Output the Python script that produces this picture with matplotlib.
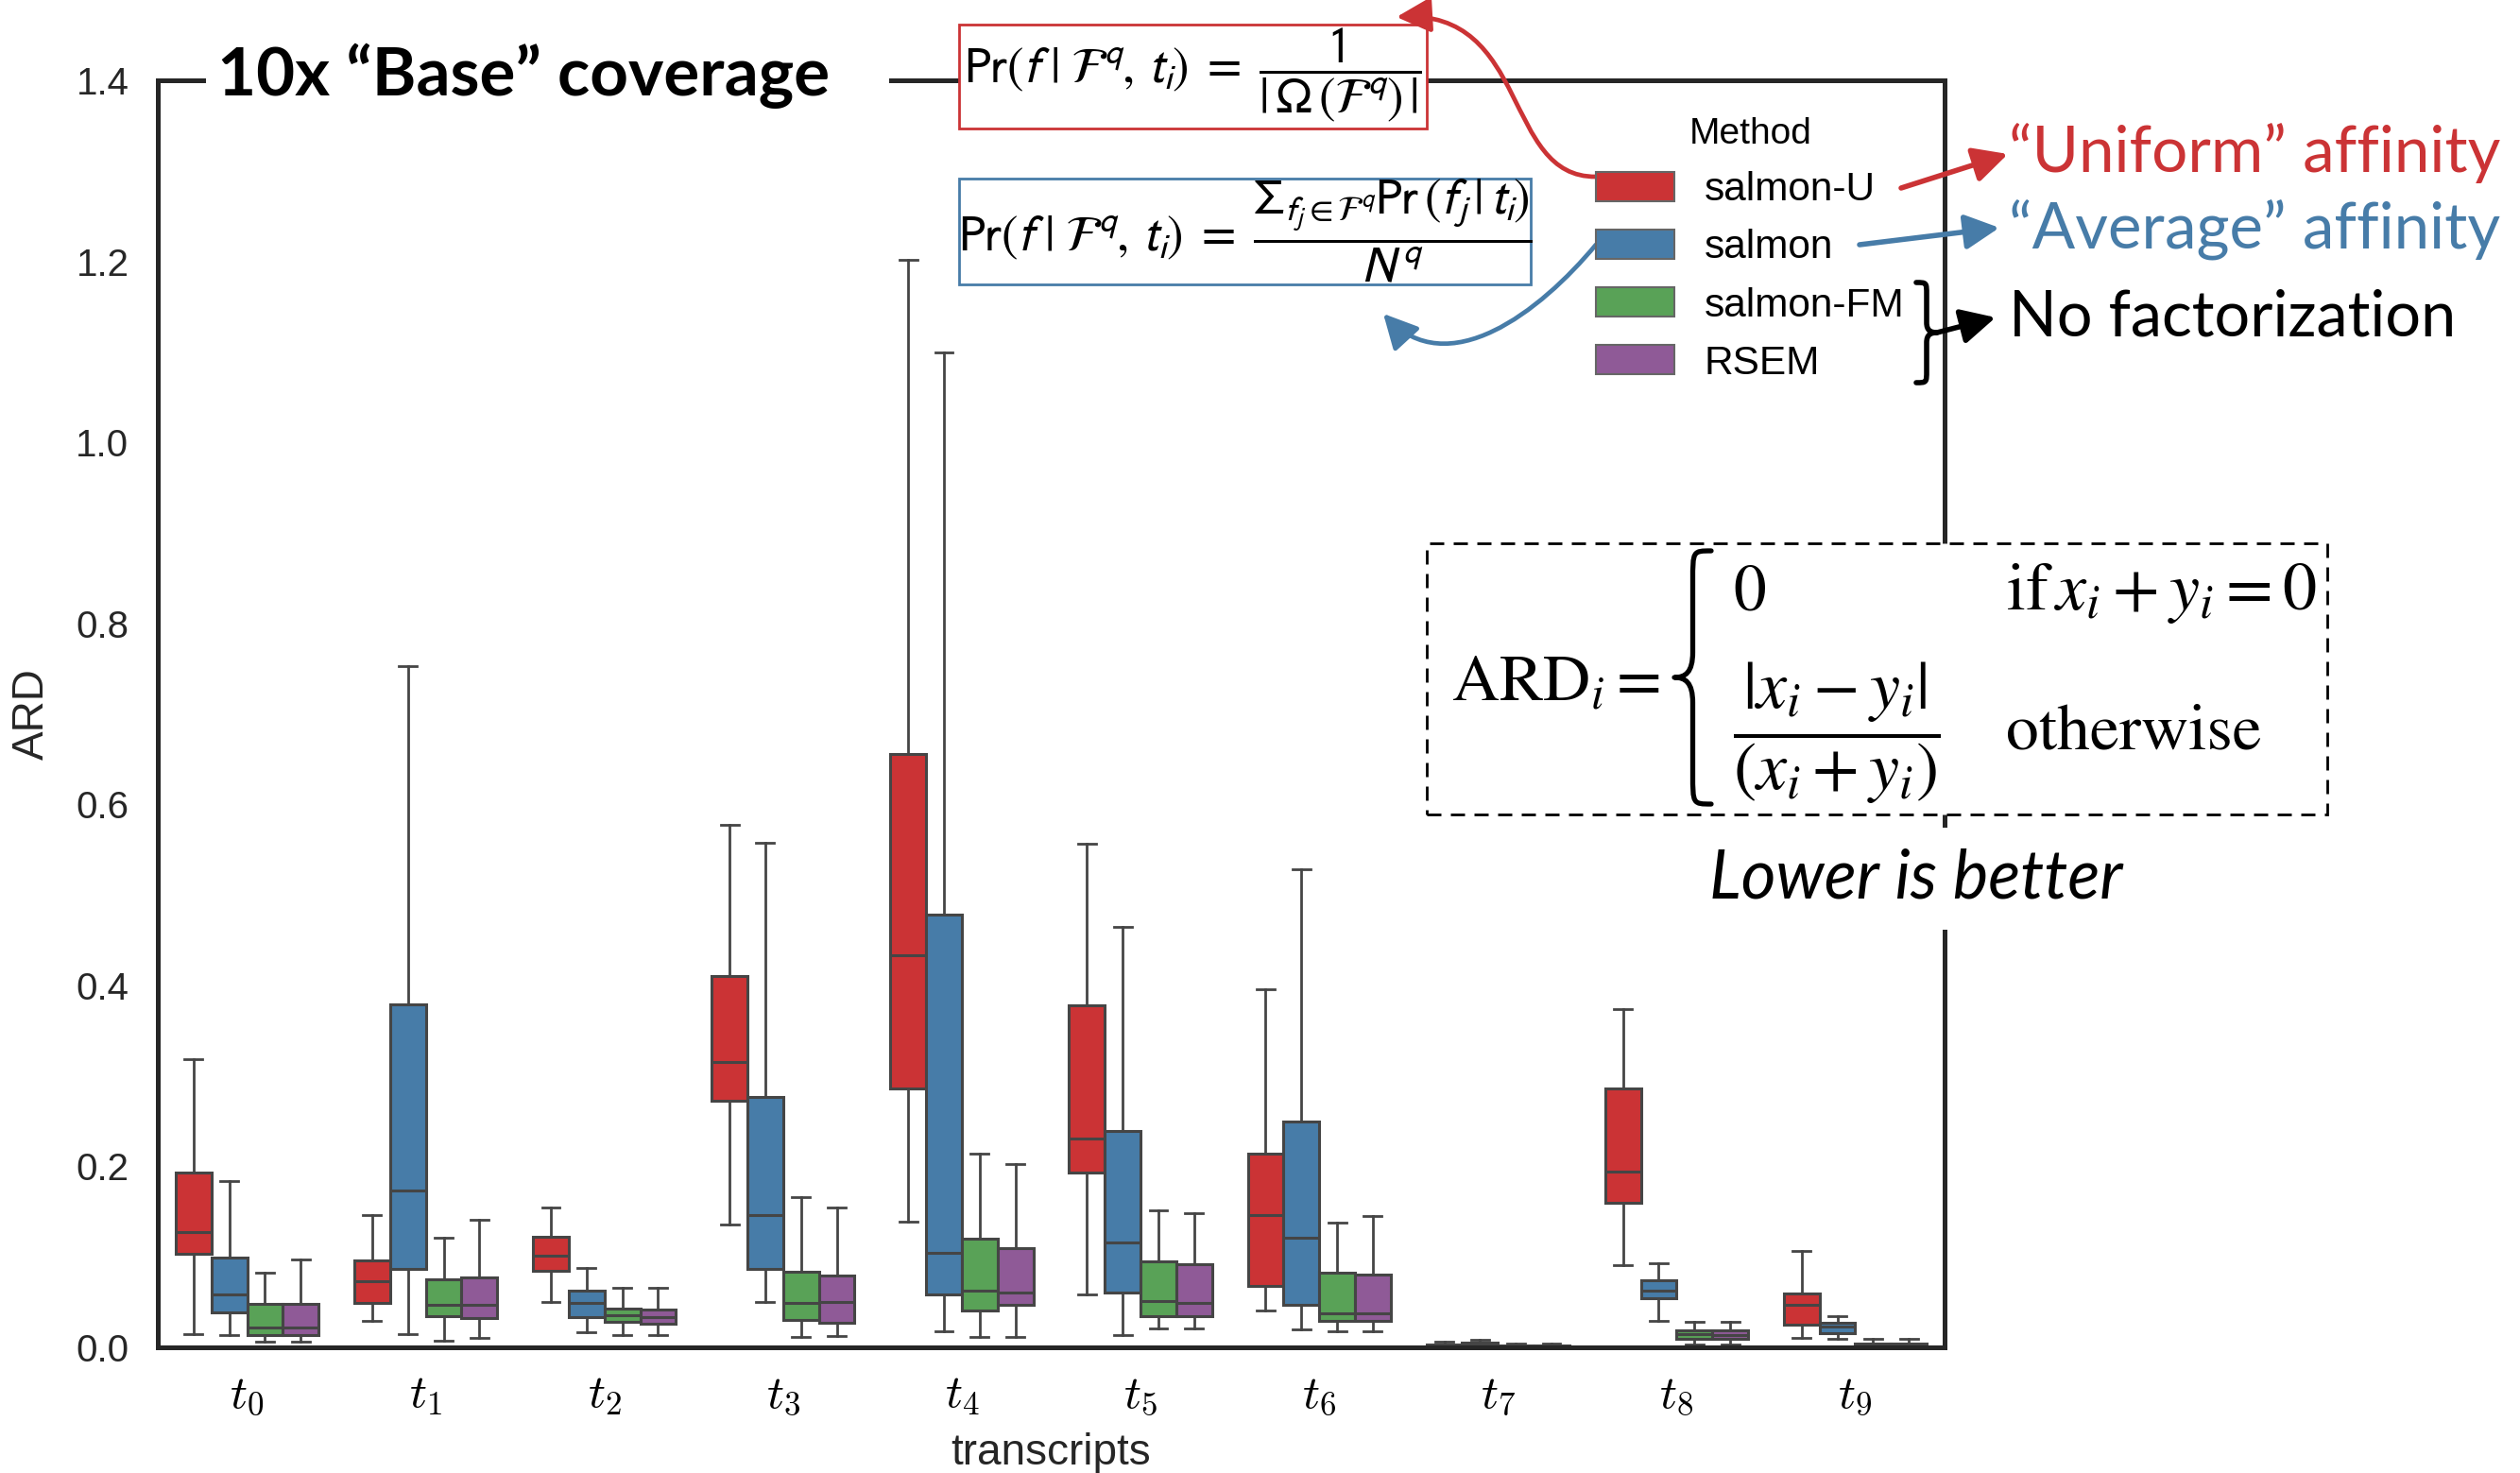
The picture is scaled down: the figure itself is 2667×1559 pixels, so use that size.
import numpy as np
import matplotlib
matplotlib.use("Agg")
import matplotlib.pyplot as plt
from matplotlib.patches import Rectangle, FancyArrowPatch, Patch, PathPatch, ArrowStyle
from matplotlib.path import Path

# ---------------- data ----------------
transcripts = [r"$t_{%d}$" % i for i in range(10)]
methods = ["salmon-U", "salmon", "salmon-FM", "RSEM"]
y_ticks = [0.0, 0.2, 0.4, 0.6, 0.8, 1.0, 1.2, 1.4]

# box statistics per transcript: [whisker low, Q1, median, Q3, whisker high]
salmon_u = [
    [0.015, 0.103, 0.127, 0.193, 0.318],
    [0.029, 0.049, 0.073, 0.096, 0.146],
    [0.050, 0.085, 0.101, 0.122, 0.155],
    [0.136, 0.272, 0.315, 0.410, 0.577],
    [0.139, 0.286, 0.433, 0.656, 1.202],
    [0.058, 0.193, 0.231, 0.378, 0.556],
    [0.041, 0.068, 0.146, 0.214, 0.396],
    [0.0005, 0.0015, 0.002, 0.003, 0.006],
    [0.091, 0.160, 0.194, 0.286, 0.374],
    [0.010, 0.025, 0.047, 0.060, 0.106],
]
salmon = [
    [0.014, 0.039, 0.058, 0.099, 0.184],
    [0.015, 0.087, 0.173, 0.379, 0.753],
    [0.017, 0.033, 0.049, 0.063, 0.088],
    [0.050, 0.087, 0.146, 0.277, 0.558],
    [0.018, 0.058, 0.104, 0.478, 1.099],
    [0.014, 0.061, 0.116, 0.239, 0.465],
    [0.020, 0.047, 0.121, 0.249, 0.528],
    [0.0005, 0.002, 0.003, 0.0055, 0.008],
    [0.029, 0.054, 0.063, 0.074, 0.093],
    [0.009, 0.016, 0.023, 0.027, 0.034],
]
salmon_fm = [
    [0.006, 0.014, 0.022, 0.048, 0.082],
    [0.007, 0.034, 0.047, 0.075, 0.121],
    [0.014, 0.028, 0.035, 0.043, 0.066],
    [0.011, 0.030, 0.049, 0.084, 0.166],
    [0.012, 0.041, 0.063, 0.120, 0.214],
    [0.021, 0.034, 0.051, 0.095, 0.151],
    [0.018, 0.029, 0.038, 0.082, 0.138],
    [0.0003, 0.001, 0.0015, 0.002, 0.004],
    [0.003, 0.009, 0.015, 0.019, 0.028],
    [0.0003, 0.001, 0.002, 0.004, 0.009],
]
rsem = [
    [0.006, 0.014, 0.022, 0.048, 0.097],
    [0.010, 0.032, 0.047, 0.077, 0.141],
    [0.014, 0.026, 0.033, 0.042, 0.066],
    [0.013, 0.027, 0.050, 0.079, 0.154],
    [0.012, 0.047, 0.061, 0.110, 0.203],
    [0.021, 0.034, 0.049, 0.092, 0.148],
    [0.018, 0.029, 0.038, 0.080, 0.145],
    [0.0003, 0.001, 0.0015, 0.002, 0.004],
    [0.003, 0.009, 0.014, 0.019, 0.028],
    [0.0003, 0.001, 0.002, 0.004, 0.009],
]

# ---------------- style ----------------
RED, BLUE, GREEN, PURPLE = "#CB3335", "#477CA8", "#59A257", "#8F5A97"
colors = [RED, BLUE, GREEN, PURPLE]
GRAY = "#454545"
SPINE = "#262626"
plt.rcParams["mathtext.fontset"] = "cm"
plt.rcParams["font.family"] = ["Liberation Sans", "DejaVu Sans"]

W, H = 2667, 1559
fig = plt.figure(figsize=(W / 100, H / 100), dpi=100)
fig.patch.set_facecolor("white")


def P(x, y):
    """pixel position (origin top-left) -> figure fraction"""
    return (x / W, 1 - y / H)


ax = fig.add_axes([167 / W, 1 - 1426 / H, (2058 - 167) / W, (1426 - 85) / H])

n = len(transcripts)
offsets = [-0.3, -0.1, 0.1, 0.3]
for stats, col, off in zip([salmon_u, salmon, salmon_fm, rsem], colors, offsets):
    bstats = [dict(whislo=s[0], q1=s[1], med=s[2], q3=s[3], whishi=s[4], fliers=[])
              for s in stats]
    ax.bxp(bstats, positions=np.arange(n) + off, widths=0.2, patch_artist=True,
           showfliers=False, manage_ticks=False,
           boxprops=dict(facecolor=col, edgecolor=GRAY, linewidth=2.2),
           medianprops=dict(color=GRAY, linewidth=2.2),
           whiskerprops=dict(color=GRAY, linewidth=2.0),
           capprops=dict(color=GRAY, linewidth=2.0))

ax.set_xlim(-0.5, n - 0.5)
ax.set_ylim(0, 1.4)
ax.set_xticks(np.arange(n))
ax.set_xticklabels(transcripts, fontsize=36)
ax.set_yticks(y_ticks)
ax.set_yticklabels(["%.1f" % v for v in y_ticks], fontsize=29, color=SPINE)
ax.tick_params(axis="both", length=0)
ax.tick_params(axis="y", pad=22)
ax.tick_params(axis="x", pad=20)
for sp in ax.spines.values():
    sp.set_linewidth(3.6)
    sp.set_color(SPINE)
ax.set_xlabel("transcripts", fontsize=33, color=SPINE)
ax.set_ylabel("ARD", fontsize=33, color=SPINE)
ax.xaxis.set_label_coords(0.5, -0.067)
ax.yaxis.set_label_coords(-0.059, 0.5)

# ---------------- legend ----------------
handles = [Patch(facecolor=c, edgecolor="#666666", linewidth=1.5, label=m)
           for c, m in zip(colors, methods)]
fig.legend(handles=handles, title="Method", loc="upper left",
           bbox_to_anchor=P(1689, 124), frameon=False, fontsize=30.5,
           title_fontsize=28, handlelength=1.97, handleheight=0.75,
           handletextpad=0.74, labelspacing=0.5, borderpad=0, borderaxespad=0)

# ---------------- title on the top spine ----------------
fig.add_artist(Rectangle(P(218, 110), (941 - 218) / W, 50 / H, transform=fig.transFigure,
                         facecolor="white", edgecolor="none"))
fig.text(*P(230, 80), "10x \u201cBase\u201d coverage", family="Lato", fontweight="bold",
         fontsize=51, ha="left", va="center", color="black")

# ---------------- likelihood formulas ----------------
fig.add_artist(Rectangle(P(1015, 136), (1510 - 1015) / W, (136 - 26) / H,
                         transform=fig.transFigure, facecolor="white",
                         edgecolor=RED, linewidth=2.0))
fig.text(*P(1262, 80),
         r"$\mathrm{Pr}(f\;|\;\mathcal{F}^q,\,t_i)\;=\;\dfrac{1}{|\,\Omega\,(\mathcal{F}^q)\,|}$",
         math_fontfamily="stixsans", fontsize=38, ha="center", va="center")

fig.add_artist(Rectangle(P(1015, 301), (1620 - 1015) / W, (301 - 189) / H,
                         transform=fig.transFigure, facecolor="white",
                         edgecolor=BLUE, linewidth=2.0))
fig.text(*P(1318, 245),
         r"$\mathrm{Pr}(f\;|\;\mathcal{F}^q,\,t_i)\;=\;"
         r"\dfrac{\Sigma_{f_j \in \mathcal{F}^q}\mathrm{Pr}\,(f_j\,|\,t_i)}{N^q}$",
         math_fontfamily="stixsans", fontsize=38, ha="center", va="center")

# ---------------- method annotations ----------------
fig.text(*P(2126, 162), "\u201cUniform\u201d affinity", family="Lato", fontsize=48.5,
         color=RED, ha="left", va="center")
fig.text(*P(2126, 243), "\u201cAverage\u201d affinity", family="Lato", fontsize=48.5,
         color=BLUE, ha="left", va="center")
fig.text(*P(2126, 337), "No factorization", family="Lato", fontsize=48,
         color="black", ha="left", va="center")

head = ArrowStyle("-|>", head_length=0.55, head_width=0.28)


def arrow(p0, p1, col, lw=4.0):
    fig.add_artist(FancyArrowPatch(P(*p0), P(*p1), transform=fig.transFigure,
                                   arrowstyle=head, mutation_scale=40, color=col,
                                   linewidth=lw, shrinkA=0, shrinkB=0))


def curved_arrow(pts, col, lw=3.4):
    verts = [P(*p) for p in pts]
    path = Path(verts, [Path.MOVETO, Path.CURVE4, Path.CURVE4, Path.CURVE4])
    fig.add_artist(FancyArrowPatch(path=path, transform=fig.transFigure,
                                   arrowstyle=head, mutation_scale=40, color=col,
                                   linewidth=lw))


arrow((2012, 199), (2125, 163), RED)
arrow((1968, 259), (2116, 241), BLUE)
arrow((2050, 352), (2112, 336), "black")
curved_arrow([(1689, 187), (1590, 188), (1620, 10), (1478, 18)], RED)
curved_arrow([(1689, 259), (1630, 330), (1532, 406), (1464, 332)], BLUE)


def brace(x_tip, x_arm, y_top, y_bot, lw, col="black"):
    h = y_bot - y_top
    xm = (x_tip + x_arm) / 2
    ym = (y_top + y_bot) / 2
    xt2 = x_tip + 0.3 * (x_arm - x_tip)
    pts = [(x_arm, y_top),
           (xm, y_top), (xm, y_top), (xm, y_top + 0.12 * h),
           (xm, ym - 0.1 * h),
           (xm, ym - 0.02 * h), (xt2, ym), (x_tip, ym),
           (xt2, ym), (xm, ym + 0.02 * h), (xm, ym + 0.1 * h),
           (xm, y_bot - 0.12 * h),
           (xm, y_bot), (xm, y_bot), (x_arm, y_bot)]
    codes = [Path.MOVETO, Path.CURVE4, Path.CURVE4, Path.CURVE4, Path.LINETO,
             Path.CURVE4, Path.CURVE4, Path.CURVE4, Path.CURVE4, Path.CURVE4, Path.CURVE4,
             Path.LINETO, Path.CURVE4, Path.CURVE4, Path.CURVE4]
    fig.add_artist(PathPatch(Path([P(*p) for p in pts], codes), transform=fig.transFigure,
                             fill=False, edgecolor=col, linewidth=lw,
                             capstyle="round", joinstyle="round"))


brace(2050, 2028, 299, 405, 4.0)

# ---------------- ARD definition ----------------
fig.add_artist(Rectangle(P(1510, 862), (2463 - 1510) / W, (862 - 575) / H,
                         transform=fig.transFigure, facecolor="white",
                         edgecolor="black", linewidth=2.0, linestyle=(0, (5.4, 3.6))))
fig.text(*P(1536, 723), r"$\mathrm{ARD}_i =$", math_fontfamily="stix", fontsize=50,
         ha="left", va="center")
brace(1772, 1811, 583, 851, 3.8)
fig.text(*P(1834, 628), r"$0$", math_fontfamily="stix", fontsize=50, ha="left", va="center")
fig.text(*P(2123, 628), r"$\mathrm{if}\,x_i + y_i = 0$", math_fontfamily="stix",
         fontsize=52, ha="left", va="center")
fig.text(*P(1944, 776), r"$\dfrac{|x_i - y_i|}{(x_i + y_i)}$", math_fontfamily="stix",
         fontsize=52, ha="center", va="center")
fig.text(*P(2123, 776), "otherwise", family="STIXGeneral", fontsize=50,
         ha="left", va="center")

fig.text(*P(2028, 930), "Lower is better", family="Lato", style="italic", fontsize=51,
         ha="center", va="center",
         bbox=dict(boxstyle="square,pad=0.3", facecolor="white", edgecolor="none"))

fig.savefig("out.png", dpi=100, facecolor="white")
